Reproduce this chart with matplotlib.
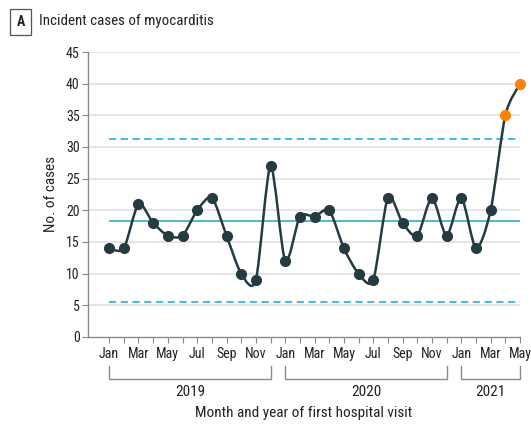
import numpy as np
import matplotlib.pyplot as plt
from matplotlib import font_manager
from matplotlib.path import Path
from matplotlib.patches import PathPatch
import matplotlib.transforms as mtransforms

installed = {f.name for f in font_manager.fontManager.ttflist}
FONT = "Lato"
for name in ["Liberation Sans Narrow", "Roboto Condensed", "Lato"]:
    if name in installed:
        FONT = name
        break
NARROW = FONT != "Lato"
plt.rcParams['font.family'] = [FONT, 'DejaVu Sans']

# ======================================================
# Data
# ======================================================

month_names = ["Jan", "Feb", "Mar", "Apr", "May", "Jun",
               "Jul", "Aug", "Sep", "Oct", "Nov", "Dec"]
years = ["2019", "2020", "2021"]
months_per_year = [12, 12, 5]

cases = [14, 14, 21, 18, 16, 16, 20, 22, 16, 10, 9, 27,
         12, 19, 19, 20, 14, 10, 9, 22, 18, 16, 22, 16,
         22, 14, 20, 35, 40]
signal_idx = [27, 28]  # Apr, May 2021 above upper limit

center_line = 18.3
upper_limit = 31.2
lower_limit = 5.5

DARK = "#243B42"
ORANGE = "#FF8200"
TEAL = "#3AB6CA"
GRID = "#E0E0E0"
SPINE = "#8A8A8A"
TEXT = "#222222"

# font sizes (narrow font can be set larger)
FS_TICK = 10 if NARROW else 8.8
FS_LAB = 11 if NARROW else 9.6
FS_TITLE = 10.8 if NARROW else 9.5

# ======================================================
# Plot
# ======================================================

fig = plt.figure(figsize=(5.31, 4.24), dpi=100)
ax = fig.add_axes([88 / 531, 1 - 337 / 424, 432 / 531, 285 / 424])

x = np.arange(len(cases))
y = np.array(cases, dtype=float)

ax.set_xlim(-1.44, 28.0)
ax.set_ylim(0, 45)

for v in range(5, 50, 5):
    ax.axhline(v, color=GRID, lw=1.2, zorder=0)

ax.hlines(center_line, 0, x[-1], color=TEAL, lw=1.3, zorder=1)
ax.hlines([upper_limit, lower_limit], 0, x[-1], color="#2FB9DD",
          lw=1.3, linestyles=(0, (4, 2.5)), zorder=1)

# smooth line through the points (cardinal spline as cubic Bezier)
k = 0.13
px = np.concatenate([[x[0]], x, [x[-1]]])
py = np.concatenate([[y[0]], y, [y[-1]]])
verts = [(x[0], y[0])]
codes = [Path.MOVETO]
for i in range(1, len(px) - 2):
    c1 = (px[i] + (px[i + 1] - px[i - 1]) * k, py[i] + (py[i + 1] - py[i - 1]) * k)
    c2 = (px[i + 1] - (px[i + 2] - px[i]) * k, py[i + 1] - (py[i + 2] - py[i]) * k)
    verts += [c1, c2, (px[i + 1], py[i + 1])]
    codes += [Path.CURVE4] * 3
ax.add_patch(PathPatch(Path(verts, codes), fill=False, edgecolor=DARK,
                       lw=1.8, zorder=2, clip_on=False))

normal = [i for i in x if i not in signal_idx]
ax.plot(x[normal], y[normal], "o", color=DARK, ms=7, zorder=3, clip_on=False)
ax.plot(x[signal_idx], y[signal_idx], "o", color=ORANGE, ms=7, zorder=3,
        clip_on=False)

# axes styling
for s in ["top", "right"]:
    ax.spines[s].set_visible(False)
for s in ["left", "bottom"]:
    ax.spines[s].set_color(SPINE)
    ax.spines[s].set_linewidth(1.0)

ax.set_yticks(range(0, 50, 5))
ax.tick_params(axis="y", colors=SPINE, length=4, labelsize=FS_TICK,
               labelcolor=TEXT, pad=2)

month_labels = []
for n in months_per_year:
    month_labels += month_names[:n]
ax.set_xticks(x)
ax.set_xticklabels([m if i % 2 == 0 else "" for i, m in enumerate(month_labels)])
ax.tick_params(axis="x", colors=SPINE, length=4, labelsize=FS_TICK,
               labelcolor=TEXT, pad=3)

ax.set_ylabel("No. of cases", fontsize=FS_LAB, color=TEXT, labelpad=6)

# year brackets
trans = mtransforms.blended_transform_factory(ax.transData, ax.transAxes)
start = 0
for yr, n in zip(years, months_per_year):
    x0, x1 = start, start + n - 1
    ax.plot([x0, x0, x1, x1], [-0.102, -0.147, -0.147, -0.102], color=SPINE,
            lw=1.0, transform=trans, clip_on=False)
    ax.text((x0 + x1) / 2, -0.193, yr, transform=trans, ha="center",
            va="center", fontsize=FS_LAB, color=TEXT)
    start += n

ax.text(0.5, -0.268, "Month and year of first hospital visit",
        transform=ax.transAxes, ha="center", va="center", fontsize=FS_LAB,
        color=TEXT)

# panel title
fig.text(20.5 / 531, 1 - 22 / 424, "A", ha="center", va="center",
         fontsize=FS_TICK, fontweight="bold", color=TEXT,
         bbox=dict(boxstyle="square,pad=0.45", fc="white", ec="#555555", lw=0.9))
fig.text(39 / 531, 1 - 21.5 / 424, "Incident cases of myocarditis", ha="left",
         va="center", fontsize=FS_TITLE, color=TEXT)

fig.savefig("out.png", dpi=100)
